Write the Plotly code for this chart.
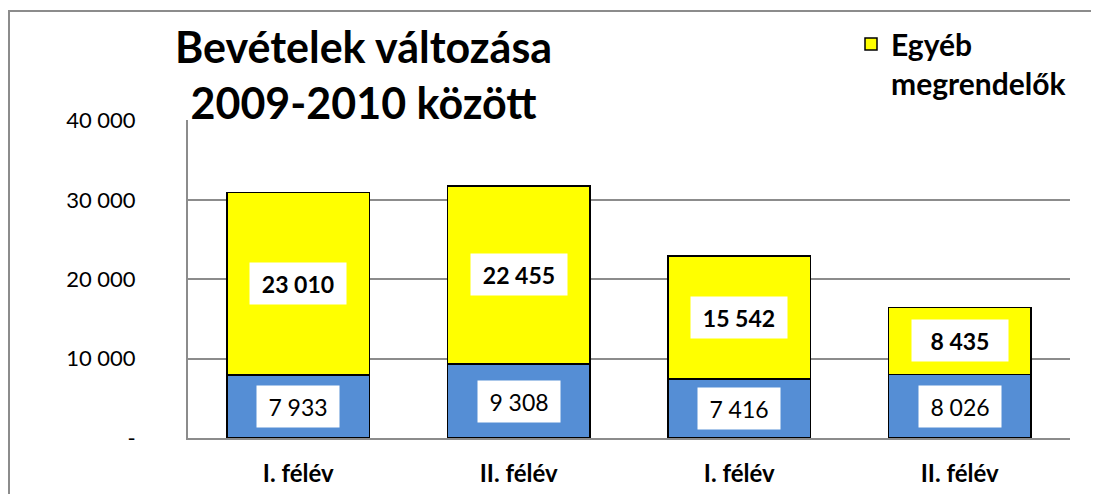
import plotly.graph_objects as go

categories = ["I. félév", "II. félév", "I. félév ", "II. félév "]
tick_labels = ["I. félév", "II. félév", "I. félév", "II. félév"]
bottom_values = [7933, 9308, 7416, 8026]
top_values = [23010, 22455, 15542, 8435]
top_name = "<b>Egyéb<br>megrendelők</b>"
y_ticks = [0, 10000, 20000, 30000, 40000]
y_tick_labels = ["-", "10 000", "20 000", "30 000", "40 000"]


def fmt(v):
    return f"{v:,}".replace(",", " ")


FONT = "Lato, 'Open Sans', sans-serif"
GRID = "#8c8c8c"

# the page body has an 8px margin, so the figure is drawn 8px smaller
# and all paper positions below are given in screen pixels minus that
W, H = 1091, 486
L, T = 180, 112
PW, PH = 882, 318


def px(x):
    return (x - 8 - L) / PW


def py(y):
    return (T + PH - (y - 8)) / PH


fig = go.Figure()

fig.add_trace(
    go.Bar(
        x=categories,
        y=bottom_values,
        name="Egyéb",
        showlegend=False,
        marker=dict(color="#558ED5", line=dict(color="black", width=1.5)),
    )
)

fig.add_trace(
    go.Bar(
        x=categories,
        y=top_values,
        name=top_name,
        marker=dict(color="#FFFF00", line=dict(color="black", width=1.5)),
    )
)

# value labels in white boxes
for c, b, t in zip(categories, bottom_values, top_values):
    fig.add_annotation(
        x=c, y=b / 2, text=fmt(b), showarrow=False,
        font=dict(family=FONT, size=23, color="black"),
        bgcolor="white", width=68, height=27, borderpad=7,
    )
    fig.add_annotation(
        x=c, y=b + t / 2, text="<b>" + fmt(t) + "</b>", showarrow=False,
        font=dict(family=FONT, size=23, color="black"),
        bgcolor="white", width=82, height=27, borderpad=7,
    )

fig.add_annotation(
    xref="paper", yref="paper",
    x=px(363), y=py(75),
    xanchor="center", yanchor="middle",
    text="<b>Bevételek változása<br>2009-2010 között</b>",
    showarrow=False,
    font=dict(family=FONT, size=43, color="black"),
)

# chart border
fig.add_shape(
    type="rect", xref="paper", yref="paper",
    x0=px(9), x1=1.2, y0=-0.5, y1=py(11),
    line=dict(color=GRID, width=2), layer="below",
)

fig.update_layout(
    width=W,
    height=H,
    barmode="stack",
    bargap=0.355,
    plot_bgcolor="white",
    paper_bgcolor="white",
    margin=dict(l=L, r=W - L - PW, t=T, b=H - T - PH, autoexpand=False),
    font=dict(family=FONT, color="black"),
    legend=dict(
        x=px(851), y=py(18),
        xanchor="left", yanchor="top",
        valign="top",
        font=dict(family=FONT, size=30, color="black"),
        bgcolor="rgba(0,0,0,0)",
    ),
)

fig.update_xaxes(
    tickvals=categories,
    ticktext=["<b>" + s + "</b>" for s in tick_labels],
    tickfont=dict(family=FONT, size=24, color="black"),
    showline=True, linecolor=GRID, linewidth=2,
    ticks="", ticklabelstandoff=13,
)

fig.update_yaxes(
    range=[0, 40060],
    tickvals=y_ticks,
    ticktext=y_tick_labels,
    tickfont=dict(family=FONT, size=22, color="black"),
    showgrid=True, gridcolor=GRID, gridwidth=2,
    showline=True, linecolor=GRID, linewidth=2,
    zeroline=False,
    ticks="", ticklabelstandoff=46,
)

fig.write_html("out.html")
